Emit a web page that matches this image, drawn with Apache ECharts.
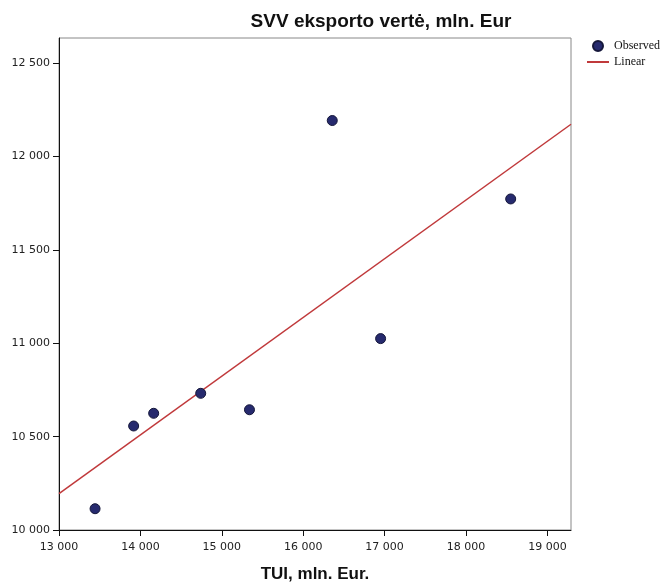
<!DOCTYPE html>
<html>
<head>
<meta charset="utf-8">
<script src="https://cdn.jsdelivr.net/npm/echarts@6/dist/echarts.min.js"></script>
<style>
  html, body { margin: 0; padding: 0; background: #fff; }
  #chart { width: 665px; height: 583px; }
</style>
</head>
<body>
<div id="chart"></div>
<script>
// Observed values: TUI (x) vs. SVV export value (y), mln. Eur
var tuiValues = [13443, 13917, 14163, 14741, 15340, 16357, 16951, 18549];
var exportValues = [10114, 10557, 10625, 10732, 10644, 12193, 11025, 11773];

// Fitted linear trend, endpoints at the x-axis extent
var fitX = [13000, 19290];
var fitY = [10195, 12173];

var xTicks = [13000, 14000, 15000, 16000, 17000, 18000, 19000];
var yTicks = [10000, 10500, 11000, 11500, 12000, 12500];

function fmt(v) {
  var s = String(Math.round(v));
  return s.replace(/\B(?=(\d{3})+(?!\d))/g, ' ');
}

var observed = tuiValues.map(function (x, i) { return [x, exportValues[i]]; });
var linear = fitX.map(function (x, i) { return [x, fitY[i]]; });

var chart = echarts.init(document.getElementById('chart'));
chart.setOption({
  animation: false,
  backgroundColor: '#ffffff',
  title: {
    text: 'SVV eksporto vertė, mln. Eur',
    left: 381,
    top: 12,
    textAlign: 'center',
    padding: 0,
    textStyle: { fontFamily: 'Liberation Sans', fontWeight: 'bold', fontSize: 19, color: '#111' }
  },
  legend: {
    orient: 'vertical',
    left: 586,
    top: 40,
    itemWidth: 22,
    itemHeight: 10,
    itemGap: 4,
    padding: 0,
    textStyle: { fontFamily: 'Liberation Serif', fontSize: 12, color: '#111' },
    data: [
      { name: 'Observed' },
      { name: 'Linear', itemStyle: { opacity: 0 } }
    ]
  },
  grid: {
    left: 59,
    right: 94,
    top: 38,
    bottom: 53,
    show: true,
    borderColor: '#888',
    borderWidth: 1,
    containLabel: false,
    outerBoundsMode: 'none'
  },
  xAxis: {
    type: 'value',
    min: 13000,
    max: 19290,
    interval: 1000,
    name: 'TUI, mln. Eur.',
    nameLocation: 'middle',
    nameGap: 36,
    nameTextStyle: { fontFamily: 'Liberation Sans', fontWeight: 'bold', fontSize: 17, color: '#111' },
    axisLine: { show: true, onZero: false, lineStyle: { color: '#111', width: 1 } },
    axisTick: { show: true, inside: false, length: 6, lineStyle: { color: '#111' } },
    axisLabel: {
      showMaxLabel: false,
      margin: 12,
      fontFamily: 'DejaVu Sans',
      fontSize: 11,
      color: '#222',
      formatter: function (v) { return xTicks.indexOf(v) >= 0 ? fmt(v) : ''; }
    },
    splitLine: { show: false }
  },
  yAxis: {
    type: 'value',
    min: 10000,
    max: 12635,
    interval: 500,
    axisLine: { show: true, onZero: false, lineStyle: { color: '#111', width: 1 } },
    axisTick: { show: true, inside: false, length: 6, lineStyle: { color: '#111' } },
    axisLabel: {
      showMaxLabel: false,
      margin: 9,
      fontFamily: 'DejaVu Sans',
      fontSize: 11,
      color: '#222',
      formatter: function (v) { return yTicks.indexOf(v) >= 0 ? fmt(v) : ''; }
    },
    splitLine: { show: false }
  },
  series: [
    {
      name: 'Observed',
      type: 'scatter',
      symbol: 'circle',
      symbolSize: 10,
      itemStyle: { color: '#262a6e', borderColor: '#15173a', borderWidth: 1, opacity: 1 },
      data: observed,
      z: 3
    },
    {
      name: 'Linear',
      type: 'line',
      symbol: 'none',
      lineStyle: { color: '#c0393b', width: 1.5 },
      itemStyle: { color: '#c0393b' },
      data: linear,
      z: 2
    }
  ]
});
</script>
</body>
</html>
